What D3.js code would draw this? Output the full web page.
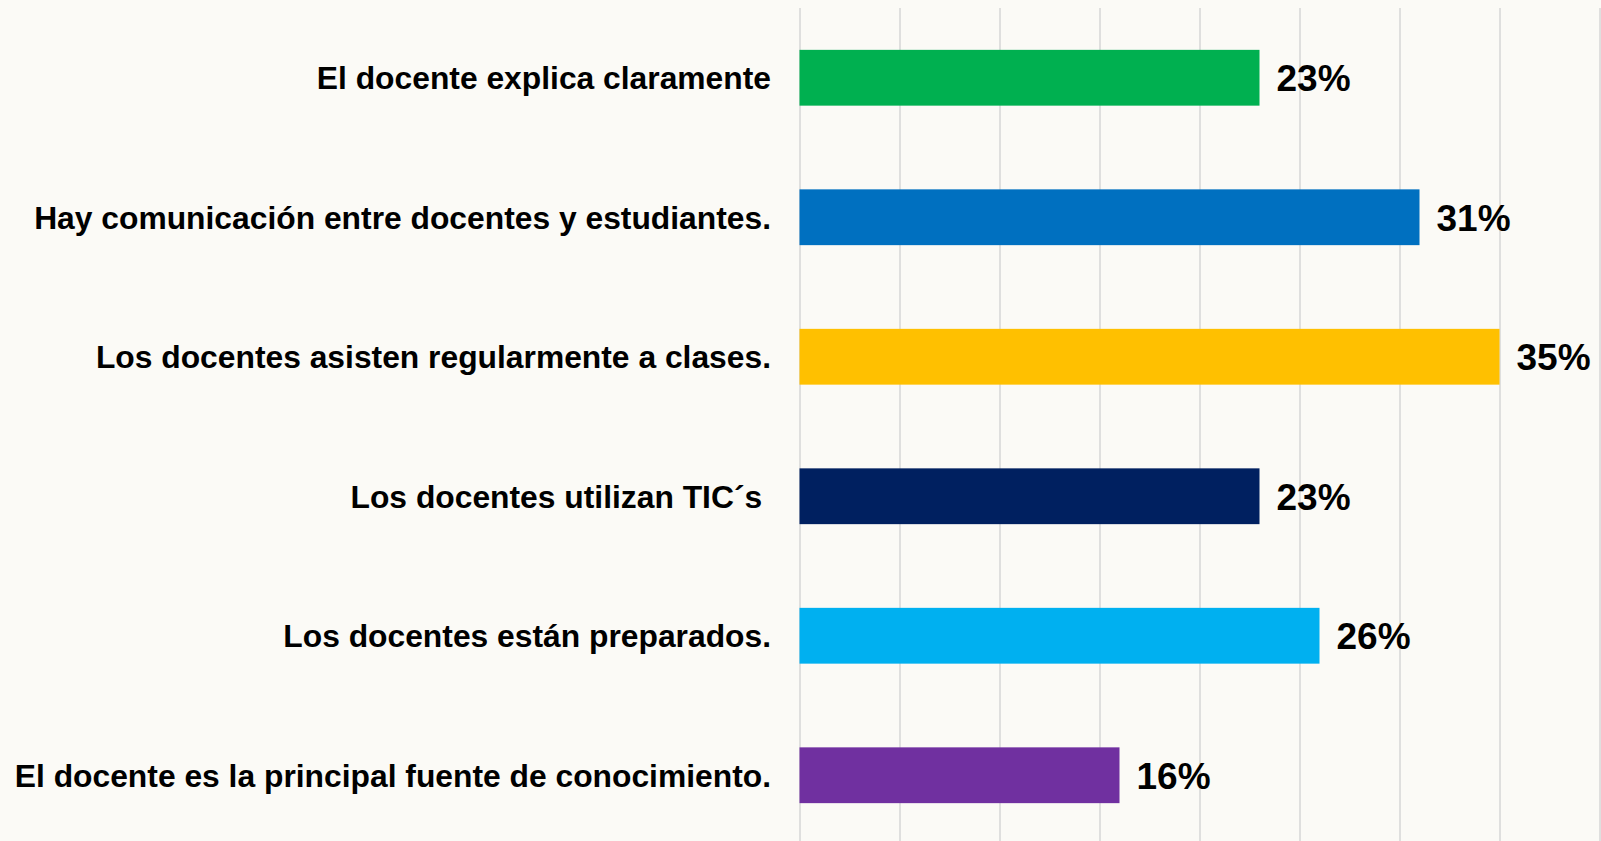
<!DOCTYPE html>
<html>
<head>
<meta charset="utf-8">
<script src="https://cdn.jsdelivr.net/npm/d3@7"></script>
<style>
  html, body { margin: 0; padding: 0; background: #fbfaf6; }
  #cont { width: 1601px; height: 841px; overflow: hidden; }
  text { font-family: "Liberation Sans", Arial, sans-serif; font-weight: bold; fill: #000; }
</style>
</head>
<body>
<div id="cont"></div>
<script>
// data //
var categories = [
  "El docente explica claramente",
  "Hay comunicación entre docentes y estudiantes.",
  "Los docentes asisten regularmente a clases.",
  "Los docentes utilizan TIC´s ",
  "Los docentes están preparados.",
  "El docente es la principal fuente de conocimiento."
];
var values = [23, 31, 35, 23, 26, 16];
var barColors = ["#00b050", "#0070c0", "#ffc000", "#002060", "#00b0f0", "#7030a0"];
var gridTicks = [0, 5, 10, 15, 20, 25, 30, 35, 40];

// svg //
var W = 1601, H = 841;
var svg = d3.select("#cont").append("svg").attr("width", W).attr("height", H);

svg.append("rect").attr("width", W).attr("height", H).attr("fill", "#fbfaf6");

var x = d3.scaleLinear().domain([0, 40]).range([799.5, 1599.5]);
var y = d3.scaleBand().domain(categories).range([8, 845])
  .paddingInner(0.6).paddingOuter(0.3);

// grid
var grid = svg.append("g")
  .attr("transform", "translate(0," + H + ")")
  .call(d3.axisBottom(x).tickValues(gridTicks).tickSize(-(H - 8)).tickFormat(""));
grid.select(".domain").remove();
grid.selectAll("line").attr("stroke", "#d9d9d9").attr("stroke-width", 1.6);

// bars
svg.selectAll("rect.bar").data(values).enter().append("rect")
  .attr("class", "bar")
  .attr("x", x(0))
  .attr("y", function(d, i) { return y(categories[i]); })
  .attr("width", function(d) { return x(d) - x(0); })
  .attr("height", y.bandwidth())
  .attr("fill", function(d, i) { return barColors[i]; });

// value labels
svg.selectAll("text.val").data(values).enter().append("text")
  .attr("class", "val")
  .attr("x", function(d) { return x(d) + 17; })
  .attr("y", function(d, i) { return y(categories[i]) + y.bandwidth() / 2; })
  .attr("dy", "0.36em")
  .style("font-size", "37px")
  .text(function(d) { return d + "%"; });

// category labels
svg.selectAll("text.cat").data(categories).enter().append("text")
  .attr("class", "cat")
  .attr("x", 771)
  .attr("y", function(d) { return y(d) + y.bandwidth() / 2; })
  .attr("dy", "0.36em")
  .attr("text-anchor", "end")
  .style("font-size", "31.8px")
  .style("white-space", "pre")
  .text(function(d) { return d; });
</script>
</body>
</html>
